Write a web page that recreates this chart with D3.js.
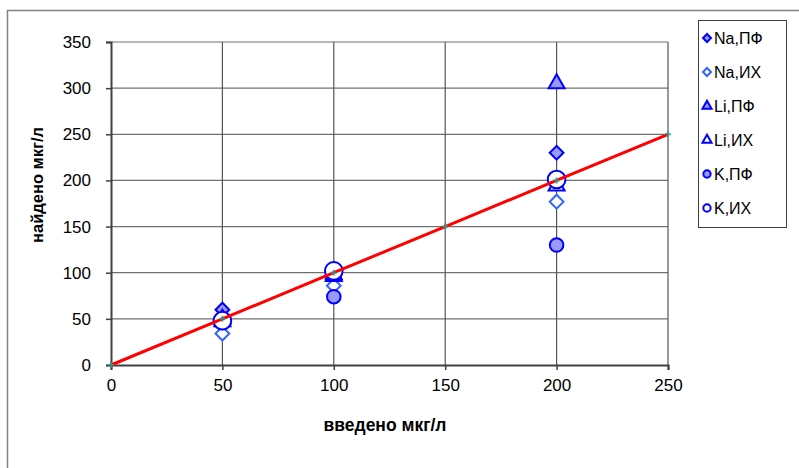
<!DOCTYPE html>
<html><head><meta charset="utf-8">
<script src="https://cdn.jsdelivr.net/npm/d3@7"></script>
<style>body{margin:0;background:#fff}svg{display:block;font-family:"Liberation Sans",Arial,sans-serif}</style>
</head><body><svg id="c" width="799" height="468"></svg>
<script>
const xTicks = [0, 50, 100, 150, 200, 250];
const yTicks = [0, 50, 100, 150, 200, 250, 300, 350];
const xValues = [50, 100, 200];
const naPF = [60, 95, 230];
const naIH = [34, 86, 177];
const liPF = [50, 96, 305];
const liIH = [47, 98, 194];
const kPF  = [46, 74, 130];
const kIH  = [48, 102, 201];
const lineX = [0, 50, 100, 150, 200, 250];
const lineY = [0, 50, 100, 150, 200, 250];
const seriesNames = ["Na,ПФ", "Na,ИХ", "Li,ПФ", "Li,ИХ", "K,ПФ", "K,ИХ"];
const xTitle = "введено мкг/л";
const yTitle = "найдено мкг/л";

const series = [
  {name: seriesNames[0], vals: naPF, shape: d3.symbolSquare, rot: 45, size: 95, lsize: 32, fill: "#9999ff", stroke: "#0000ff"},
  {name: seriesNames[1], vals: naIH, shape: d3.symbolSquare, rot: 45, size: 95, lsize: 32, fill: "#ffffff", stroke: "#3366ff"},
  {name: seriesNames[2], vals: liPF, shape: d3.symbolTriangle, rot: 0, size: 110, lsize: 36, fill: "#9999ff", stroke: "#0000ff"},
  {name: seriesNames[3], vals: liIH, shape: d3.symbolTriangle, rot: 0, size: 110, lsize: 36, fill: "#ffffff", stroke: "#0000ff"},
  {name: seriesNames[4], vals: kPF,  shape: d3.symbolCircle, rot: 0, size: 145, lsize: 42, fill: "#9999ff", stroke: "#0000ff"},
  {name: seriesNames[5], vals: kIH,  shape: d3.symbolCircle, rot: 0, size: 245, lsize: 42, fill: "#ffffff", stroke: "#0000ff"}
];

const svg = d3.select("#c");
const L = 111, R = 668, T = 42, B = 365;
const x = d3.scaleLinear().domain([0, 250]).range([L, R]);
const y = d3.scaleLinear().domain([0, 350]).range([B, T]);

// outer frame
svg.append("rect").attr("x", 7.5).attr("y", 10.5).attr("width", 820).attr("height", 480)
  .attr("fill", "none").attr("stroke", "#808080").attr("stroke-width", 1.5);

// grid
svg.append("g").selectAll("line").data(yTicks.slice(1)).join("line")
  .attr("x1", L).attr("x2", R).attr("y1", d => y(d)).attr("y2", d => y(d))
  .attr("stroke", "#707070").attr("stroke-width", 1.2);
svg.append("g").selectAll("line").data(xTicks.slice(1)).join("line")
  .attr("y1", T).attr("y2", B).attr("x1", d => x(d)).attr("x2", d => x(d))
  .attr("stroke", "#555").attr("stroke-width", 1.2);

// axes
const yAxis = svg.append("g").attr("transform", `translate(${L},0)`)
  .call(d3.axisLeft(y).tickValues(yTicks).tickSize(5).tickPadding(15));
const xAxis = svg.append("g").attr("transform", `translate(0,${B})`)
  .call(d3.axisBottom(x).tickValues(xTicks).tickSize(5).tickPadding(9));
[yAxis, xAxis].forEach(a => {
  a.select(".domain").attr("stroke", "#404040").attr("stroke-width", 2);
  a.selectAll(".tick line").attr("stroke", "#404040").attr("stroke-width", 1.5);
  a.selectAll("text").attr("font-size", 17).attr("fill", "#000")
    .attr("font-family", "Liberation Sans, Arial, sans-serif");
});

// titles
svg.append("text").attr("x", 385).attr("y", 431).attr("text-anchor", "middle")
  .attr("font-size", 17.5).attr("font-weight", "bold").text(xTitle);
svg.append("text").attr("transform", "translate(43,185) rotate(-90)").attr("text-anchor", "middle")
  .attr("font-size", 16.5).attr("font-weight", "bold").text(yTitle);

// markers
series.forEach(s => {
  svg.append("g").selectAll("path").data(s.vals).join("path")
    .attr("d", d3.symbol().type(s.shape).size(s.size))
    .attr("transform", (d, i) => `translate(${x(xValues[i])},${y(d)}) rotate(${s.rot})`)
    .attr("fill", s.fill).attr("stroke", s.stroke).attr("stroke-width", 2);
});

// red line
svg.append("path").datum(lineX.map((d, i) => [d, lineY[i]]))
  .attr("d", d3.line().x(d => x(d[0])).y(d => y(d[1])))
  .attr("fill", "none").attr("stroke", "#ff0000").attr("stroke-width", 3);
svg.append("g").selectAll("path").data(lineX).join("path")
  .attr("d", d3.symbol().type(d3.symbolCross).size(20))
  .attr("transform", (d, i) => `translate(${x(d)},${y(lineY[i])})`)
  .attr("fill", "#2a9d8f").attr("opacity", 0.8);

// legend
const lg = svg.append("g");
lg.append("rect").attr("x", 698.5).attr("y", 20.5).attr("width", 88).attr("height", 207)
  .attr("fill", "#fff").attr("stroke", "#404040").attr("stroke-width", 1);
series.forEach((s, i) => {
  const cy = 38 + i * 34;
  lg.append("path").attr("d", d3.symbol().type(s.shape).size(s.lsize))
    .attr("transform", `translate(707,${cy}) rotate(${s.rot})`)
    .attr("fill", s.fill).attr("stroke", s.stroke).attr("stroke-width", 2);
  lg.append("text").attr("x", 714).attr("y", cy + 5.5).attr("font-size", 16).text(s.name);
});
</script></body></html>
